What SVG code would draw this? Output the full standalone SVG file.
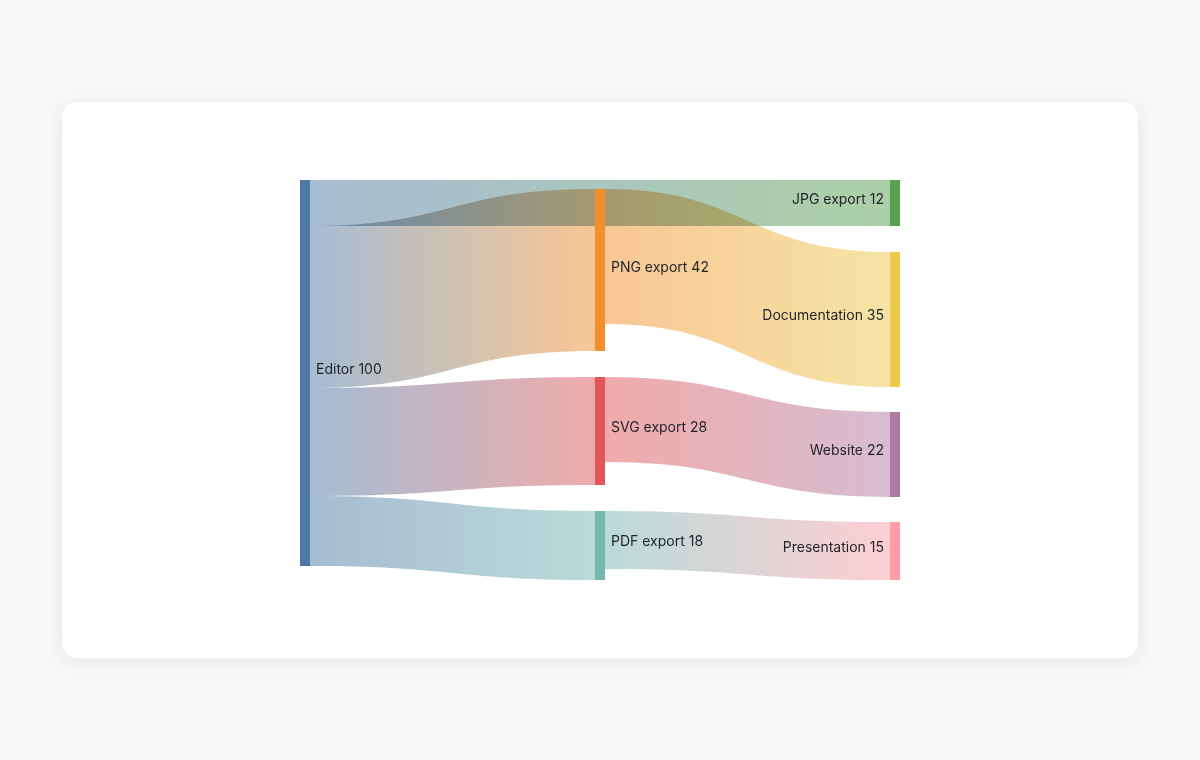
<svg xmlns="http://www.w3.org/2000/svg" width="1200" height="760" viewBox="0 0 1200 760">
<defs>
<filter id="sh" x="-10%" y="-10%" width="120%" height="130%"><feDropShadow dx="0" dy="4" stdDeviation="10" flood-color="#000" flood-opacity="0.07"/></filter>
<linearGradient id="g1" gradientUnits="userSpaceOnUse" x1="310" x2="890"><stop offset="0" stop-color="#4e79a7"/><stop offset="1" stop-color="#59a14f"/></linearGradient>
<linearGradient id="g2" gradientUnits="userSpaceOnUse" x1="310" x2="595"><stop offset="0" stop-color="#4e79a7"/><stop offset="1" stop-color="#f28e2c"/></linearGradient>
<linearGradient id="g3" gradientUnits="userSpaceOnUse" x1="310" x2="595"><stop offset="0" stop-color="#4e79a7"/><stop offset="1" stop-color="#e15759"/></linearGradient>
<linearGradient id="g4" gradientUnits="userSpaceOnUse" x1="310" x2="595"><stop offset="0" stop-color="#4e79a7"/><stop offset="1" stop-color="#76b7b2"/></linearGradient>
<linearGradient id="g5" gradientUnits="userSpaceOnUse" x1="605" x2="890"><stop offset="0" stop-color="#f28e2c"/><stop offset="1" stop-color="#edc949"/></linearGradient>
<linearGradient id="g6" gradientUnits="userSpaceOnUse" x1="605" x2="890"><stop offset="0" stop-color="#e15759"/><stop offset="1" stop-color="#af7aa1"/></linearGradient>
<linearGradient id="g7" gradientUnits="userSpaceOnUse" x1="605" x2="890"><stop offset="0" stop-color="#76b7b2"/><stop offset="1" stop-color="#ff9da7"/></linearGradient>
</defs>
<style>
.lk{opacity:0.5;mix-blend-mode:multiply}
text{font-family:Inter,"Liberation Sans",sans-serif;font-size:14px;fill:#1f2328;dominant-baseline:central}
.r{text-anchor:end}
</style>
<rect width="1200" height="760" fill="#f8f9fb"/>
<rect x="61" y="101" width="1078" height="558" rx="16" fill="#fff" stroke="#e6e8ec" filter="url(#sh)"/>
<g id="links">
<path class="lk" fill="url(#g1)" d="M310,180 C600,180 600,180 890,180 L890,226 C600,226 600,226 310,226 Z"/>
<path class="lk" fill="url(#g2)" d="M310,226 C452,226 452,189 595,189 L595,351 C452,351 452,388 310,388 Z"/>
<path class="lk" fill="url(#g3)" d="M310,388 C452,388 452,377 595,377 L595,485 C452,485 452,496 310,496 Z"/>
<path class="lk" fill="url(#g4)" d="M310,496 C452,496 452,511 595,511 L595,580 C452,580 452,566 310,566 Z"/>
<path class="lk" fill="url(#g5)" d="M605,189 C747,189 747,252 890,252 L890,387 C747,387 747,324 605,324 Z"/>
<path class="lk" fill="url(#g6)" d="M605,377 C747,377 747,412 890,412 L890,497 C747,497 747,462 605,462 Z"/>
<path class="lk" fill="url(#g7)" d="M605,511 C747,511 747,522 890,522 L890,580 C747,580 747,569 605,569 Z"/>
</g>
<g id="editor"><rect x="300" y="180" width="10" height="386" fill="#4e79a7"/><text x="316" y="368">Editor 100</text></g>
<g id="png"><rect x="595" y="189" width="10" height="162" fill="#f28e2c"/><text x="611" y="266">PNG export 42</text></g>
<g id="svg"><rect x="595" y="377" width="10" height="108" fill="#e15759"/><text x="611" y="426">SVG export 28</text></g>
<g id="pdf"><rect x="595" y="511" width="10" height="69" fill="#76b7b2"/><text x="611" y="540">PDF export 18</text></g>
<g id="jpg"><rect x="890" y="180" width="10" height="46" fill="#59a14f"/><text class="r" x="884" y="198">JPG export 12</text></g>
<g id="doc"><rect x="890" y="252" width="10" height="135" fill="#edc949"/><text class="r" x="884" y="314">Documentation 35</text></g>
<g id="web"><rect x="890" y="412" width="10" height="85" fill="#af7aa1"/><text class="r" x="884" y="449">Website 22</text></g>
<g id="pres"><rect x="890" y="522" width="10" height="58" fill="#ff9da7"/><text class="r" x="884" y="546">Presentation 15</text></g>
</svg>
